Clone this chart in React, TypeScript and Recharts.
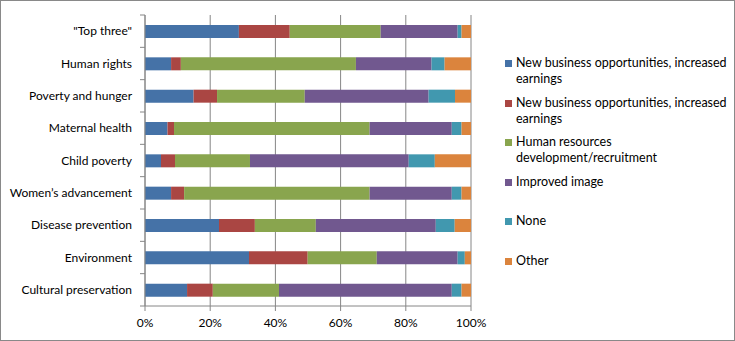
import React from 'react';
import {
  BarChart,
  Bar,
  XAxis,
  YAxis,
  CartesianGrid,
  Legend,
} from 'recharts';

const categories = [
  '"Top three"',
  'Human rights',
  'Poverty and hunger',
  'Maternal health',
  'Child poverty',
  'Women’s advancement',
  'Disease prevention',
  'Environment',
  'Cultural preservation',
];

const newBusinessA = [28.8, 8.0, 14.9, 6.9, 4.9, 8.0, 22.7, 31.9, 12.9];
const newBusinessB = [15.6, 3.0, 7.2, 2.0, 4.3, 4.0, 11.0, 18.0, 7.9];
const humanResources = [27.9, 53.7, 26.9, 60.0, 23.0, 56.9, 18.7, 21.2, 20.3];
const improvedImage = [23.6, 23.2, 38.0, 25.2, 48.7, 25.2, 36.8, 24.8, 53.0];
const none = [1.2, 4.0, 8.1, 3.0, 8.0, 3.0, 5.8, 2.2, 3.0];
const other = [2.9, 8.1, 4.9, 2.9, 11.1, 2.9, 5.0, 1.9, 2.9];

const seriesNames = [
  'New business opportunities, increased earnings',
  'New business opportunities, increased earnings',
  'Human resources development/recruitment',
  'Improved image',
  'None',
  'Other',
];
const seriesValues = [newBusinessA, newBusinessB, humanResources, improvedImage, none, other];
const colors = ['#4572A7', '#AA4643', '#89A54E', '#71588F', '#4198AF', '#DB843D'];

const xTicks = [0, 0.2, 0.4, 0.6, 0.8, 1];
const xTickLabels = ['0%', '20%', '40%', '60%', '80%', '100%'];

const data = categories.map((name, i) => {
  const row: Record<string, string | number> = { name };
  seriesValues.forEach((vals, s) => {
    row['s' + s] = vals[i];
  });
  return row;
});

const FONT = 'Lato, "Open Sans", sans-serif';
const W = 735;
const H = 341;
const TOP = 15;
const X_AXIS_H = 35;
const BAND = (H - TOP - X_AXIS_H) / categories.length;
const GREY = '#868686';

// category labels; tick marks sit on the band edges like Excel does
const CategoryTick = (props: any) => {
  const { x, y, payload, index } = props;
  const ax = x + 8;
  return (
    <g>
      <line x1={ax} x2={ax + 5} y1={y - BAND / 2} y2={y - BAND / 2} stroke={GREY} />
      {index === categories.length - 1 && (
        <line x1={ax} x2={ax + 5} y1={y + BAND / 2} y2={y + BAND / 2} stroke={GREY} />
      )}
      <text x={x} y={y} dy={4} textAnchor="end" fontSize={12} fontFamily={FONT} fill="#000">
        {payload.value}
      </text>
    </g>
  );
};

const LegendBox = () => (
  <div style={{ fontFamily: FONT, fontSize: 12.5, color: '#000' }}>
    {seriesNames.map((n, i) => (
      <div key={i} style={{ display: 'flex', alignItems: 'flex-start', height: 39.6 }}>
        <div
          style={{
            width: 7,
            height: 7,
            marginTop: 5,
            marginRight: 4,
            background: colors[i],
            flexShrink: 0,
          }}
        />
        <div style={{ width: 214, lineHeight: '16px' }}>{n}</div>
      </div>
    ))}
  </div>
);

export default function App() {
  return (
    <div style={{ position: 'absolute', left: 0, top: 0, width: W, height: H, background: '#fff' }}>
      <BarChart
        width={W}
        height={H}
        data={data}
        layout="vertical"
        stackOffset="expand"
        margin={{ top: TOP, right: 264, left: 0, bottom: 0 }}
      >
        <CartesianGrid horizontal={false} stroke={GREY} />
        <XAxis
          type="number"
          domain={[0, 1]}
          ticks={xTicks}
          tickFormatter={(v: number) => xTickLabels[xTicks.indexOf(v)]}
          height={X_AXIS_H}
          stroke={GREY}
          tickSize={5}
          tickMargin={7}
          tick={{ fontSize: 12, fontFamily: FONT, fill: '#000' }}
        />
        <YAxis
          type="category"
          dataKey="name"
          width={145}
          stroke={GREY}
          tickLine={false}
          tickSize={5}
          tickMargin={8}
          interval={0}
          tick={<CategoryTick />}
        />
        <Legend
          layout="vertical"
          align="center"
          verticalAlign="middle"
          wrapperStyle={{ left: 505, top: 55, width: 228 }}
          content={<LegendBox />}
        />
        {seriesNames.map((n, i) => (
          <Bar
            key={i}
            dataKey={'s' + i}
            name={n}
            stackId="a"
            fill={colors[i]}
            barSize={13}
            isAnimationActive={false}
          />
        ))}
      </BarChart>
      <div
        style={{
          position: 'absolute',
          left: 0,
          top: 0,
          width: W,
          height: H,
          boxSizing: 'border-box',
          border: '1px solid #898989',
          pointerEvents: 'none',
        }}
      />
    </div>
  );
}
